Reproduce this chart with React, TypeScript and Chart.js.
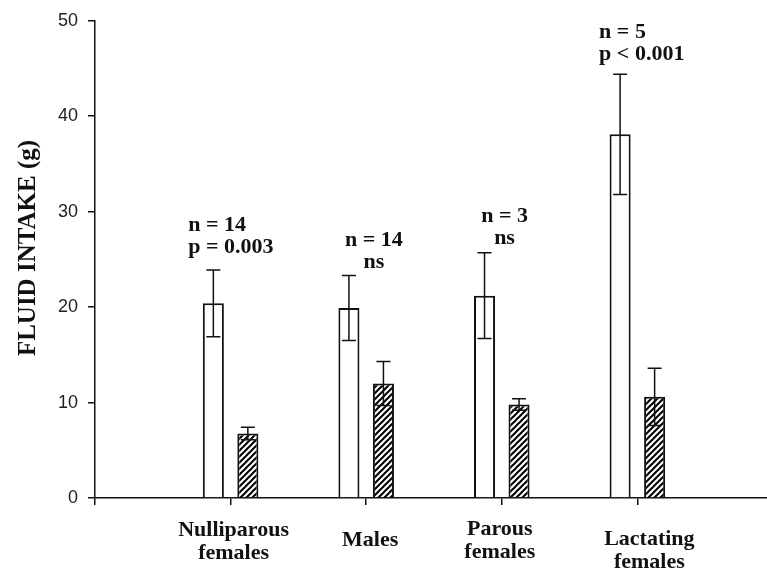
import React, { useEffect, useRef } from 'react';
import { Chart, registerables } from 'chart.js';

Chart.register(...registerables);

// ---------- data ----------
const categoryLabels: string[][] = [
  ['Nulliparous', 'females'],
  ['Males'],
  ['Parous', 'females'],
  ['Lactating', 'females'],
];
const categoryPositions = [1, 2, 3, 4];
const controlMeans = [20.4, 19.9, 21.2, 38.1];
const controlErrors = [3.5, 3.4, 4.5, 6.3];
const treatedMeans = [6.75, 12.0, 9.8, 10.6];
const treatedErrors = [0.65, 2.3, 0.6, 3.0];
const annotationLines: string[][] = [
  ['n = 14', 'p = 0.003'],
  ['n = 14', 'ns'],
  ['n = 3', 'ns'],
  ['n = 5', 'p < 0.001'],
];
const yMin = 0;
const yMax = 50;
const yStep = 10;
const yTitle = 'FLUID INTAKE (g)';

// ---------- layout / style ----------
const W = 767;
const H = 569;
const SERIF = '"Liberation Serif", "Times New Roman", serif';
const SANS = '"Liberation Sans", Arial, sans-serif';
const annotLayout = [
  { align: 'left', dx: -25, gap: 23 },
  { align: 'center', dx: 25, gap: 13 },
  { align: 'center', dx: 20, gap: 14 },
  { align: 'left', dx: -21, gap: 20 },
];
const catLayout = [
  { dx: 3, dy: 32 },
  { dx: 4, dy: 42 },
  { dx: -2, dy: 31 },
  { dx: 12, dy: 41 },
];

function makeHatch(): CanvasPattern | string {
  const s = 6;
  const c = document.createElement('canvas');
  c.width = s;
  c.height = s;
  const g = c.getContext('2d');
  if (!g) return '#777';
  g.fillStyle = '#fff';
  g.fillRect(0, 0, s, s);
  g.strokeStyle = '#000';
  g.lineWidth = 2;
  g.beginPath();
  g.moveTo(-1, s + 1);
  g.lineTo(s + 1, -1);
  g.moveTo(-1, 1);
  g.lineTo(1, -1);
  g.moveTo(s - 1, s + 1);
  g.lineTo(s + 1, s - 1);
  g.stroke();
  const p = g.createPattern(c, 'repeat');
  return p || '#777';
}

const errorBarPlugin = {
  id: 'errorBars',
  afterDatasetsDraw(chart: any) {
    const ctx = chart.ctx;
    const ys = chart.scales.y;
    const errs = [controlErrors, treatedErrors];
    const means = [controlMeans, treatedMeans];
    ctx.save();
    ctx.strokeStyle = '#111';
    ctx.lineWidth = 1.5;
    for (let d = 0; d < 2; d++) {
      const meta = chart.getDatasetMeta(d);
      meta.data.forEach((bar: any, i: number) => {
        const x = bar.x;
        const top = ys.getPixelForValue(means[d][i] + errs[d][i]);
        const bot = ys.getPixelForValue(means[d][i] - errs[d][i]);
        const cap = 7;
        ctx.beginPath();
        ctx.moveTo(x, top);
        ctx.lineTo(x, bot);
        ctx.moveTo(x - cap, top);
        ctx.lineTo(x + cap, top);
        ctx.moveTo(x - cap, bot);
        ctx.lineTo(x + cap, bot);
        ctx.stroke();
      });
    }
    ctx.restore();
  },
};

const textPlugin = {
  id: 'texts',
  afterDraw(chart: any) {
    const ctx = chart.ctx;
    const xs = chart.scales.x;
    const ys = chart.scales.y;
    const meta0 = chart.getDatasetMeta(0);
    ctx.save();
    ctx.fillStyle = '#111';
    ctx.textBaseline = 'middle';

    // annotations above bars
    ctx.font = `bold 22px ${SERIF}`;
    annotationLines.forEach((lines, i) => {
      const L = annotLayout[i];
      const bar = meta0.data[i];
      const top = ys.getPixelForValue(controlMeans[i] + controlErrors[i]);
      const lastY = top - L.gap;
      ctx.textAlign = L.align;
      lines.forEach((t, j) => {
        const y = lastY - (lines.length - 1 - j) * 22;
        ctx.fillText(t, bar.x + L.dx, y);
      });
    });

    // category labels
    ctx.font = `bold 22px ${SERIF}`;
    ctx.textAlign = 'center';
    const axisY = ys.getPixelForValue(0);
    categoryLabels.forEach((lines, i) => {
      const L = catLayout[i];
      const cx = xs.getPixelForValue(categoryPositions[i]) + L.dx;
      lines.forEach((t, j) => {
        ctx.fillText(t, cx, axisY + L.dy + j * 23);
      });
    });

    // y axis title
    ctx.font = `bold 25px ${SERIF}`;
    ctx.translate(29, 248);
    ctx.rotate(-Math.PI / 2);
    ctx.textAlign = 'center';
    ctx.fillText(yTitle, 0, 0);
    ctx.restore();
  },
};

export default function App() {
  const ref = useRef<HTMLCanvasElement | null>(null);

  useEffect(() => {
    document.body.style.margin = '0';
    document.body.style.background = '#fff';
    const canvas = ref.current;
    if (!canvas) return;
    const hatch = makeHatch();
    const chart = new Chart(canvas, {
      type: 'bar',
      data: {
        datasets: [
          {
            label: 'control',
            data: categoryPositions.map((x, i) => ({ x, y: controlMeans[i] })),
            backgroundColor: '#ffffff',
            borderColor: '#111',
            borderWidth: 2,
            categoryPercentage: 0.509,
            barPercentage: 0.61,
          },
          {
            label: 'treated',
            data: categoryPositions.map((x, i) => ({ x, y: treatedMeans[i] })),
            backgroundColor: hatch as any,
            borderColor: '#111',
            borderWidth: 2,
            categoryPercentage: 0.509,
            barPercentage: 0.61,
          },
        ],
      },
      options: {
        responsive: false,
        animation: false,
        maintainAspectRatio: false,
        layout: { padding: { top: 19, right: 0, left: 0, bottom: 0 } },
        plugins: {
          legend: { display: false },
          tooltip: { enabled: false },
          title: { display: false },
        },
        scales: {
          x: {
            type: 'linear',
            min: 0,
            max: 4.956,
            offset: false,
            grid: {
              offset: false,
              drawOnChartArea: false,
              drawTicks: true,
              tickLength: 7,
              color: '#111',
              lineWidth: 1.5,
            },
            border: { display: true, color: '#111', width: 1.5 },
            ticks: {
              stepSize: 1,
              includeBounds: false,
              callback: () => '',
              font: { size: 1 },
            },
            afterFit: (scale: any) => {
              scale.height = 71;
            },
          },
          y: {
            type: 'linear',
            min: yMin,
            max: yMax,
            grid: {
              drawOnChartArea: false,
              drawTicks: true,
              tickLength: 7,
              color: '#111',
              lineWidth: 1.5,
            },
            border: { display: true, color: '#111', width: 1.5 },
            ticks: {
              stepSize: yStep,
              padding: 10,
              color: '#222',
              font: { family: SANS, size: 18 },
            },
            afterFit: (scale: any) => {
              scale.width = 95;
            },
          },
        },
      },
      plugins: [errorBarPlugin, textPlugin],
    });
    return () => chart.destroy();
  }, []);

  return (
    <div style={{ width: W, height: H, position: 'relative', background: '#fff' }}>
      <canvas ref={ref} width={W} height={H} style={{ display: 'block' }} />
    </div>
  );
}
